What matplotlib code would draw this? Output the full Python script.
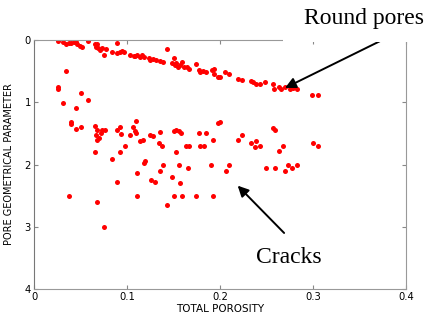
import numpy as np
import matplotlib.pyplot as plt
from matplotlib.patches import Rectangle

# upper branch ("round pores")
round_x = [0.025, 0.031, 0.034, 0.037, 0.040, 0.043, 0.045, 0.046, 0.049, 0.051,
           0.058, 0.065, 0.066, 0.068, 0.069, 0.071, 0.073, 0.075, 0.077, 0.084,
           0.089, 0.089, 0.092, 0.094, 0.097, 0.103, 0.107, 0.108, 0.111, 0.114,
           0.116, 0.118, 0.123, 0.125, 0.128, 0.131, 0.135, 0.139, 0.143, 0.148,
           0.150, 0.152, 0.153, 0.155, 0.157, 0.159, 0.161, 0.164, 0.167, 0.174,
           0.177, 0.178, 0.182, 0.185, 0.191, 0.193, 0.193, 0.198, 0.200, 0.205,
           0.210, 0.219, 0.224, 0.233, 0.236, 0.239, 0.243, 0.248, 0.257, 0.258,
           0.263, 0.266, 0.270, 0.275, 0.279, 0.283, 0.299, 0.306]
round_y = [0.02, 0.03, 0.07, 0.05, 0.05, 0.04, 0.03, 0.07, 0.10, 0.12,
           0.02, 0.07, 0.11, 0.06, 0.13, 0.16, 0.13, 0.24, 0.15, 0.19,
           0.05, 0.21, 0.20, 0.17, 0.19, 0.24, 0.26, 0.26, 0.24, 0.27,
           0.24, 0.27, 0.29, 0.32, 0.31, 0.32, 0.33, 0.35, 0.14, 0.37,
           0.29, 0.40, 0.37, 0.43, 0.40, 0.35, 0.43, 0.43, 0.46, 0.39,
           0.48, 0.51, 0.50, 0.52, 0.48, 0.46, 0.54, 0.59, 0.60, 0.52,
           0.55, 0.63, 0.65, 0.66, 0.67, 0.70, 0.70, 0.67, 0.71, 0.78,
           0.75, 0.78, 0.76, 0.78, 0.77, 0.79, 0.88, 0.89]

# lower cloud ("cracks")
crack_x = [0.025, 0.025, 0.034, 0.031, 0.045, 0.050, 0.058, 0.040, 0.040, 0.045,
           0.050, 0.037, 0.065, 0.068, 0.066, 0.068, 0.070, 0.072, 0.073, 0.076,
           0.065, 0.068, 0.075, 0.084, 0.089, 0.092, 0.093, 0.092, 0.098, 0.089,
           0.103, 0.106, 0.108, 0.109, 0.110, 0.111, 0.111, 0.114, 0.117, 0.118,
           0.119, 0.125, 0.128, 0.134, 0.135, 0.138, 0.139, 0.135, 0.126, 0.130,
           0.143, 0.150, 0.153, 0.156, 0.158, 0.153, 0.156, 0.148, 0.157, 0.150,
           0.159, 0.163, 0.167, 0.166, 0.174, 0.177, 0.178, 0.183, 0.185, 0.192,
           0.190, 0.192, 0.198, 0.200, 0.206, 0.210, 0.219, 0.224, 0.233, 0.239,
           0.238, 0.243, 0.249, 0.257, 0.259, 0.259, 0.264, 0.268, 0.270, 0.273,
           0.278, 0.283, 0.300, 0.306]
crack_y = [0.76, 0.79, 0.50, 1.02, 1.10, 0.85, 0.97, 1.31, 1.35, 1.43,
           1.39, 2.50, 1.38, 1.44, 1.52, 1.60, 1.58, 1.50, 1.44, 1.44,
           1.80, 2.60, 3.00, 1.91, 1.45, 1.40, 1.51, 1.80, 1.70, 2.28,
           1.53, 1.39, 1.46, 1.49, 1.30, 2.14, 2.50, 1.62, 1.61, 1.98,
           1.95, 1.52, 1.54, 1.65, 1.48, 1.70, 2.00, 2.10, 2.25, 2.28,
           2.65, 1.46, 1.44, 1.46, 1.50, 1.80, 2.00, 2.20, 2.30, 2.50,
           2.50, 1.70, 1.70, 2.05, 2.50, 1.50, 1.70, 1.70, 1.50, 1.61,
           2.00, 2.50, 1.33, 1.31, 2.10, 2.00, 1.61, 1.52, 1.65, 1.62,
           1.72, 1.71, 2.05, 1.41, 1.45, 2.05, 1.79, 1.70, 2.10, 2.00,
           2.05, 2.00, 1.65, 1.71]

x_ticks = [0, 0.1, 0.2, 0.3, 0.4]
x_labels = ["0", "0.1", "0.2", "0.3", "0.4"]
y_ticks = [0, 1, 2, 3, 4]

fig = plt.figure(figsize=(4.27, 3.18), dpi=100)
ax = fig.add_axes([0.0803, 0.0912, 0.870, 0.783])

ax.plot(round_x, round_y, "o", color="#ff0000", markersize=3.6, markeredgewidth=0)
ax.plot(crack_x, crack_y, "o", color="#ff0000", markersize=3.6, markeredgewidth=0)

ax.set_xlim(0, 0.4)
ax.set_ylim(4, 0)
ax.set_xticks(x_ticks)
ax.set_xticklabels(x_labels)
ax.set_yticks(y_ticks)
ax.tick_params(direction="in", length=3, color="#888888", labelsize=7.2,
               top=True, right=True, pad=2.5)
for s in ax.spines.values():
    s.set_color("#999999")
    s.set_linewidth(0.8)
ax.spines["left"].set_color("#777777")

ax.set_xlabel("TOTAL POROSITY", fontsize=7.5, labelpad=1)
ax.set_ylabel("PORE GEOMETRICAL PARAMETER", fontsize=7.0)
ax.yaxis.set_label_coords(-0.055, 0.5)

# white patch hiding the top-right corner of the box behind the label
fig.patches.append(Rectangle((0.663, 0.868), 0.4, 0.2, transform=fig.transFigure,
                             facecolor="white", edgecolor="none", zorder=5))

fig.text(0.712, 0.943, "Round pores", family="Liberation Serif", fontsize=17,
         ha="left", va="center", zorder=6)
fig.text(0.6, 0.19, "Cracks", family="Liberation Serif", fontsize=17,
         ha="left", va="center", zorder=6)

arrow = dict(arrowstyle="-|>", mutation_scale=16, lw=1.4, color="black",
             shrinkA=0, shrinkB=0)
ax.annotate("", xy=(0.270, 0.77), xytext=(0.372, 0.02), arrowprops=arrow,
            annotation_clip=False)
ax.annotate("", xy=(0.219, 2.34), xytext=(0.269, 3.10), arrowprops=arrow)

fig.savefig("out.png", dpi=100)
